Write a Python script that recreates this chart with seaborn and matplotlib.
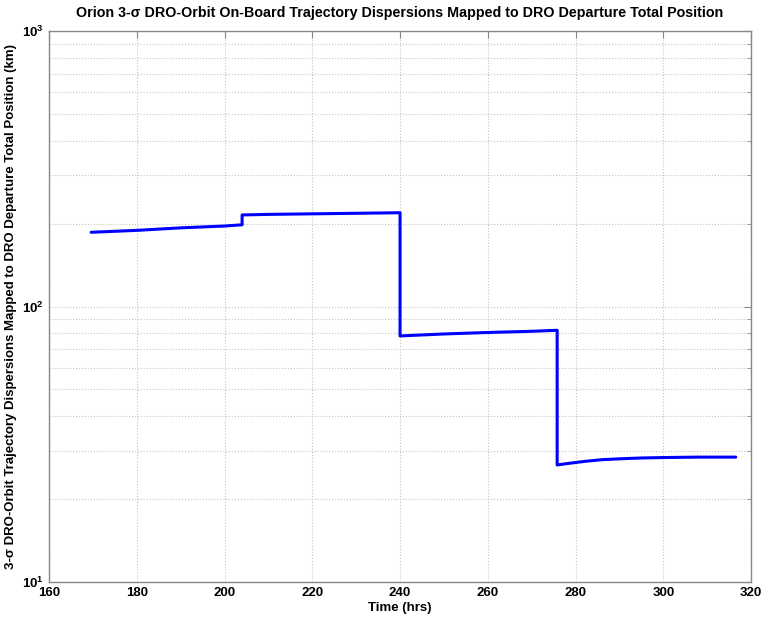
import numpy as np
import pandas as pd
import matplotlib
matplotlib.use('Agg')
import matplotlib.pyplot as plt
import seaborn as sns

# trajectory dispersion (jumps repeat the time value)
time_hrs = [169.6, 180.0, 190.0, 200.0, 204.0, 204.0, 210.0, 220.0, 230.0, 240.0,
            240.0, 250.0, 260.0, 270.0, 275.8, 275.8, 278.0, 282.0, 286.0, 290.0,
            295.0, 300.0, 308.0, 316.5]
position_km = [186, 189, 193, 196, 198, 215, 216, 217, 218, 219,
               78.2, 79.5, 80.5, 81.3, 82, 26.6, 26.9, 27.4, 27.8, 28.0,
               28.2, 28.3, 28.4, 28.4]

data = pd.DataFrame({'time': time_hrs, 'pos': position_km})

sns.set_style('white')
plt.rcParams['font.family'] = ['Liberation Sans', 'DejaVu Sans']
plt.rcParams['mathtext.default'] = 'regular'
plt.rcParams['text.color'] = 'black'
plt.rcParams['axes.labelcolor'] = 'black'

fig = plt.figure(figsize=(7.61, 6.21), dpi=100)
ax = fig.add_axes([0.0644, 0.0628, 0.9226, 0.8872])

sns.lineplot(x='time', y='pos', data=data, estimator=None, sort=False,
             color='#0000ff', linewidth=2.2, ax=ax)

ax.set_yscale('log')
ax.set_xlim(160, 320)
ax.set_ylim(10, 1000)
ax.set_xticks(np.arange(160, 321, 20))

ax.grid(True, which='major', color='#c4c4c4', linestyle=':', linewidth=0.8)
ax.grid(True, which='minor', axis='y', color='#c4c4c4', linestyle=':', linewidth=0.8)
ax.tick_params(which='both', direction='in', top=True, right=True,
               labelsize=9.5, color='#888888', labelcolor='black')
ax.tick_params(which='major', length=5)
ax.tick_params(which='minor', length=3)
ax.xaxis.set_minor_locator(matplotlib.ticker.NullLocator())
for lbl in ax.get_xticklabels() + ax.get_yticklabels():
    lbl.set_fontweight('bold')
for s in ax.spines.values():
    s.set_color('#888888')
    s.set_linewidth(1.0)

ax.set_xlabel('Time (hrs)', fontsize=9.5, fontweight='bold', labelpad=2)
ax.set_ylabel('3-σ DRO-Orbit Trajectory Dispersions Mapped to DRO Departure Total Position (km)',
              fontsize=9.5, fontweight='bold', labelpad=4)
ax.set_title('Orion 3-σ DRO-Orbit On-Board Trajectory Dispersions Mapped to DRO Departure Total Position',
             fontsize=10.3, fontweight='bold', pad=10)

fig.savefig('out.png', dpi=100)
